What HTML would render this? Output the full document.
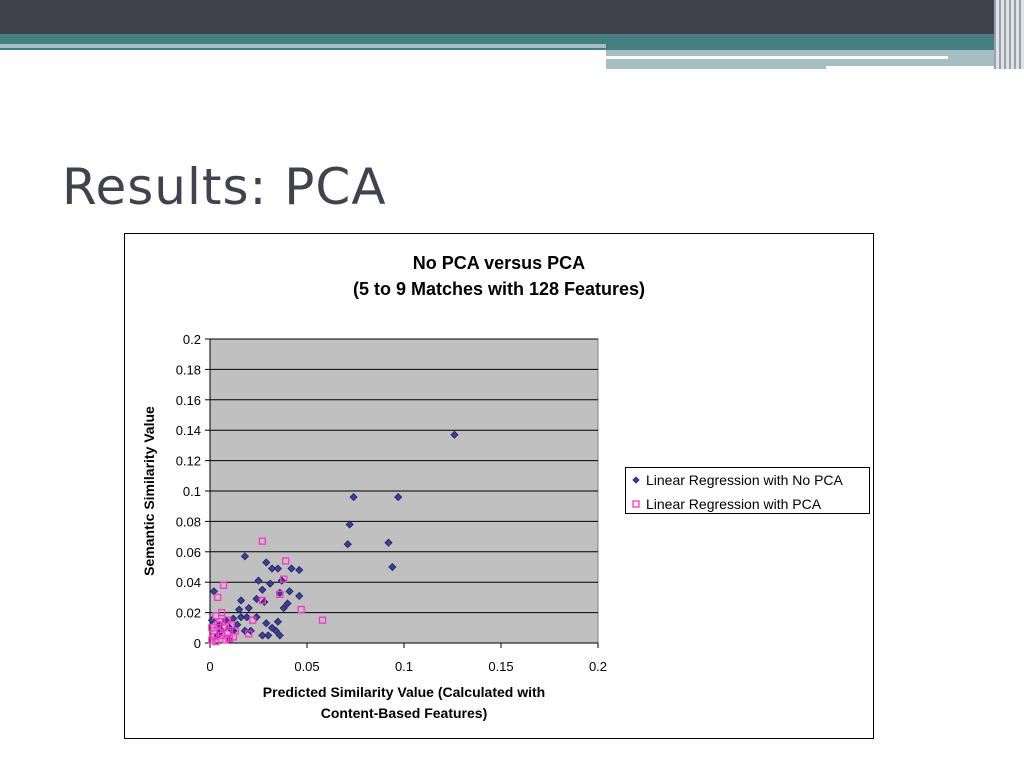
<!DOCTYPE html>
<html><head><meta charset="utf-8"><style>
body{margin:0;width:1024px;height:768px;background:#fff;position:relative;overflow:hidden;font-family:"Liberation Sans",sans-serif}
.a{position:absolute}
</style></head><body>
<div class="a" style="left:0;top:0;width:1024px;height:34px;background:#42424f"></div>
<div class="a" style="left:0;top:34px;width:1024px;height:16px;background:#457f82"></div>
<div class="a" style="left:0;top:44px;width:606px;height:4px;background:#a5bfc1"></div>
<div class="a" style="left:606px;top:50px;width:400px;height:19px;background:#a5bfc1"></div>
<div class="a" style="left:606px;top:56px;width:342px;height:3px;background:#fff"></div>
<div class="a" style="left:826px;top:66px;width:180px;height:4px;background:#fff"></div>
<div class="a" style="left:994px;top:0;width:30px;height:69px;background:repeating-linear-gradient(90deg,#9aa0a8 0 2px,#dfe3e6 2px 5px)"></div>
<div class="a" style="left:62px;top:158px;font-size:50px;color:#42424f;font-family:'DejaVu Sans',sans-serif;letter-spacing:1px">Results: PCA</div>
<svg class="a" style="left:0;top:0" width="1024" height="768">
<rect x="124.5" y="233.5" width="749" height="505" fill="#fff" stroke="#000"/>
<text x="499" y="269" text-anchor="middle" font-size="18" font-weight="bold">No PCA versus PCA</text>
<text x="499" y="295" text-anchor="middle" font-size="18" font-weight="bold">(5 to 9 Matches with 128 Features)</text>
<g id="plot"></g>
<text x="404" y="697" text-anchor="middle" font-size="14" font-weight="bold">Predicted Similarity Value (Calculated with</text>
<text x="404" y="718" text-anchor="middle" font-size="14" font-weight="bold">Content-Based Features)</text>
<text transform="translate(154,491) rotate(-90)" text-anchor="middle" font-size="14" font-weight="bold">Semantic Similarity Value</text>
<g>
<rect x="625.5" y="467.5" width="244" height="46" fill="#fff" stroke="#000"/>
<path d="M636 477 l3 3 -3 3 -3 -3z" fill="#3a3f99" stroke="#1f2260" stroke-width="0.8"/>
<text x="646" y="485" font-size="14">Linear Regression with No PCA</text>
<rect x="633" y="501" width="6" height="6" fill="none" stroke="#ff33cc" stroke-width="1.3"/>
<text x="646" y="509" font-size="14">Linear Regression with PCA</text>
</g>
</svg>
<script>
const xTicks=[0,0.05,0.1,0.15,0.2];
const yTicks=[0,0.02,0.04,0.06,0.08,0.1,0.12,0.14,0.16,0.18,0.2];
const xTickLabels=["0","0.05","0.1","0.15","0.2"];
const yTickLabels=["0","0.02","0.04","0.06","0.08","0.1","0.12","0.14","0.16","0.18","0.2"];
const noPcaX=[0.126,0.074,0.097,0.072,0.071,0.092,0.094,0.018,0.029,0.032,0.035,0.042,0.046,0.025,0.037,0.041,0.031,0.027,0.046,0.036,0.016,0.024,0.028,0.040,0.038,0.002,0.020,0.015,0.012,0.016,0.019,0.024,0.035,0.032,0.029,0.027,0.030,0.034,0.036,0.008,0.010,0.006,0.012,0.014,0.010,0.004,0.018,0.021,0.001,0.005];
const noPcaY=[0.137,0.096,0.096,0.078,0.065,0.066,0.050,0.057,0.053,0.049,0.049,0.049,0.048,0.041,0.041,0.034,0.039,0.035,0.031,0.033,0.028,0.029,0.027,0.026,0.023,0.034,0.023,0.022,0.016,0.017,0.017,0.017,0.014,0.010,0.013,0.005,0.005,0.008,0.005,0.015,0.010,0.008,0.008,0.012,0.002,0.005,0.008,0.008,0.015,0.012];
const pcaX=[0.027,0.039,0.007,0.038,0.004,0.036,0.027,0.047,0.058,0.022,0.020,0.013,0.006,0.003,0.009,0.004,0.002,0.006,0.010,0.001,0.003,0.007,0.011,0.005,0.002,0.008,0.012,0.005,0.001,0.009];
const pcaY=[0.067,0.054,0.038,0.042,0.030,0.032,0.028,0.022,0.015,0.015,0.006,0.008,0.020,0.018,0.015,0.012,0.008,0.005,0.003,0.002,0.001,0.010,0.012,0.014,0.004,0.002,0.004,0.007,0.010,0.007];
const X0=210,X1=598,Y0=643,Y1=339;
const sx=v=>X0+(v-0)/(0.2)*(X1-X0);
const sy=v=>Y0-(v-0)/(0.2)*(Y0-Y1);
const NS="http://www.w3.org/2000/svg";
const g=document.getElementById('plot');
function mk(t,a){const e=document.createElementNS(NS,t);for(const k in a)e.setAttribute(k,a[k]);g.appendChild(e);return e;}
const bg=mk('rect',{x:X0,y:Y1,width:X1-X0,height:Y0-Y1,fill:'#c0c0c0',stroke:'#808080'});


yTicks.forEach((v,i)=>{
  const y=sy(v);
  if(v>0){const l=mk('line',{x1:X0,x2:X1,y1:y,y2:y,stroke:'#000','stroke-width':1});
  
  }
  mk('line',{x1:X0-5,x2:X0,y1:y,y2:y,stroke:'#000'});
  const t=mk('text',{x:X0-9,y:y+5,'text-anchor':'end','font-size':13});t.textContent=yTickLabels[i];
  
  
});
xTicks.forEach((v,i)=>{
  const x=sx(v);
  mk('line',{x1:x,x2:x,y1:Y0,y2:Y0+5,stroke:'#000'});
  const t=mk('text',{x:x,y:Y0+28,'text-anchor':'middle','font-size':13});t.textContent=xTickLabels[i];
  
  
});
mk('line',{x1:X0,x2:X0,y1:Y1,y2:Y0,stroke:'#000'});
mk('line',{x1:X0,x2:X1,y1:Y0,y2:Y0,stroke:'#000'});
noPcaX.forEach((v,i)=>{
  const x=sx(v),y=sy(noPcaY[i]);
  const p=mk('path',{d:`M${x} ${y-3.5} L${x+3.5} ${y} L${x} ${y+3.5} L${x-3.5} ${y}Z`,fill:'#3a3f99',stroke:'#1f2260','stroke-width':0.8});
  
  
});
pcaX.forEach((v,i)=>{
  const x=sx(v),y=sy(pcaY[i]);
  const p=mk('rect',{x:x-3,y:y-3,width:6,height:6,fill:'none',stroke:'#ff33cc','stroke-width':1.3});
  
  
});
</script>
</body></html>
